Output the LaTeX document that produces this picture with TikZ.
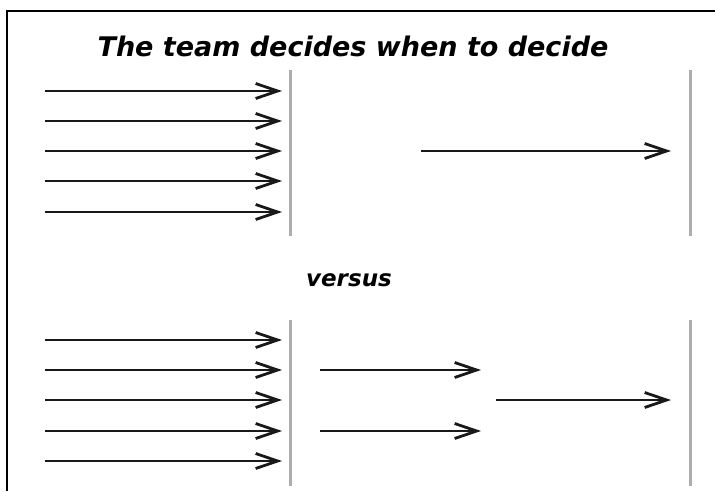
\documentclass[tikz,border=0pt]{standalone}
\usepackage{fontspec}
\setmainfont{DejaVu Sans}
\usetikzlibrary{arrows.meta}
\begin{document}
\begin{tikzpicture}[x=1pt,y=-1pt,
  flow/.style={line width=2.3pt,draw=black!90,
    -{Straight Barb[length=22pt,width=15pt,line width=2.8pt]}},
  barrier/.style={line width=3pt,draw=black!32},
  frameline/.style={line width=1.4pt,draw=black},
  heading/.style={font=\bfseries\itshape\fontsize{27}{31}\selectfont,inner sep=0pt},
  caption/.style={font=\bfseries\itshape\fontsize{23}{27}\selectfont,inner sep=0pt}]
\useasboundingbox (0,0) rectangle (715,491);
\fill[white] (0,0) rectangle (715,491);
% partial frame
\draw[frameline] (7,491) -- (7,11) -- (715,11);
% titles
\node[heading] (title) at (353,46) {The team decides when to decide};
\node[caption] (versus) at (349,280) {versus};
% upper scheme: barriers
\coordinate (ua) at (290,70);  \coordinate (ub) at (290,236);
\coordinate (uc) at (690,70);  \coordinate (ud) at (690,236);
\draw[barrier] (ua) -- (ub);
\draw[barrier] (uc) -- (ud);
% upper scheme: incoming flows
\foreach \i/\y in {1/91,2/121,3/151,4/181,5/212}{
  \coordinate (us\i) at (45,\y);
  \coordinate (ue\i) at (282,\y);
  \draw[flow] (us\i) -- (ue\i);
}
\coordinate (um1) at (421,151); \coordinate (um2) at (671,151);
\draw[flow] (um1) -- (um2);
% lower scheme: barriers
\coordinate (la) at (290,320); \coordinate (lb) at (290,486);
\coordinate (lc) at (690,320); \coordinate (ld) at (690,486);
\draw[barrier] (la) -- (lb);
\draw[barrier] (lc) -- (ld);
% lower scheme: incoming flows
\foreach \i/\y in {1/340,2/370,3/400,4/431,5/461}{
  \coordinate (ls\i) at (45,\y);
  \coordinate (le\i) at (282,\y);
  \draw[flow] (ls\i) -- (le\i);
}
% lower scheme: intermediate steps
\coordinate (lm1) at (320,370); \coordinate (ln1) at (481,370);
\coordinate (lm2) at (320,431); \coordinate (ln2) at (481,431);
\draw[flow] (lm1) -- (ln1);
\draw[flow] (lm2) -- (ln2);
\coordinate (lf1) at (496,400); \coordinate (lf2) at (671,400);
\draw[flow] (lf1) -- (lf2);
\end{tikzpicture}
\end{document}
